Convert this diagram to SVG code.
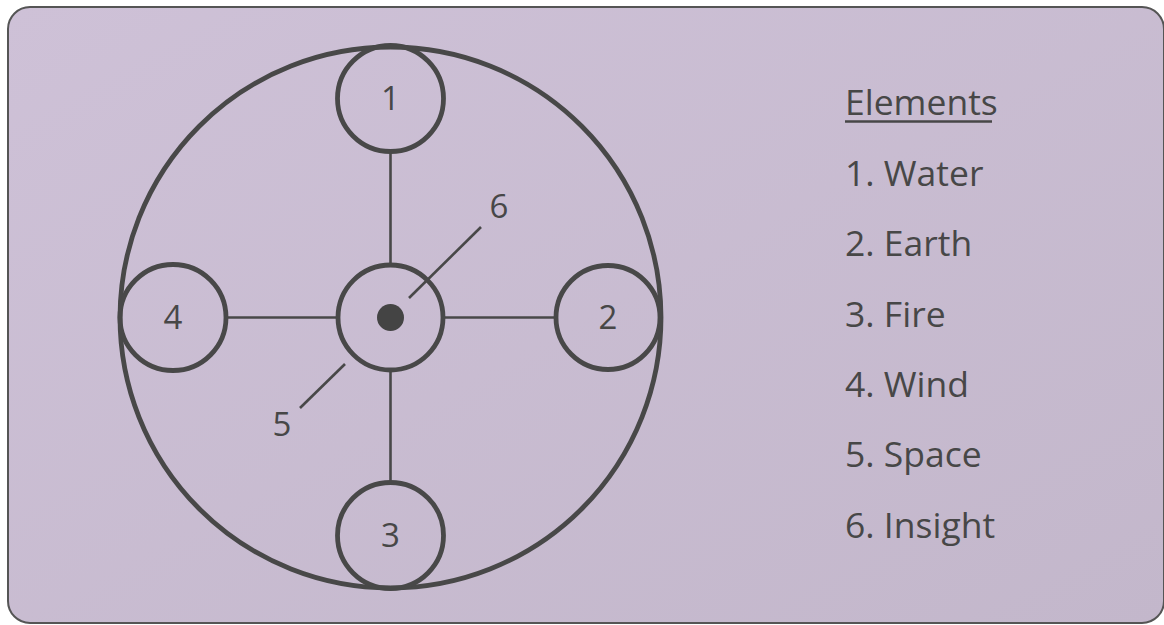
<svg xmlns="http://www.w3.org/2000/svg" width="1164" height="625" viewBox="0 0 1164 625">
<defs>
<linearGradient id="bg" x1="0" y1="0" x2="1" y2="1">
<stop offset="0" stop-color="#cec1d7"/>
<stop offset="1" stop-color="#c3b7cb"/>
</linearGradient>
</defs>
<style>
.ring{fill:none;stroke:#484848;stroke-width:4.8}
.link{fill:none;stroke:#484848;stroke-width:2.6}
.num{font-family:"Open Sans","Liberation Sans",sans-serif;font-size:33px;fill:#474747;text-anchor:middle}
.leg{font-family:"Open Sans","Liberation Sans",sans-serif;font-size:35.5px;fill:#474747}
</style>
<rect x="8" y="7" width="1156" height="616" rx="22" fill="url(#bg)" stroke="#555" stroke-width="2"/>
<g id="connectors">
<line class="link" x1="390.5" y1="151" x2="390.5" y2="265"/>
<line class="link" x1="390.5" y1="370" x2="390.5" y2="483"/>
<line class="link" x1="226" y1="317.5" x2="338" y2="317.5"/>
<line class="link" x1="443" y1="317.5" x2="556" y2="317.5"/>
<line class="link" x1="409" y1="298" x2="481" y2="227"/>
<line class="link" x1="345" y1="364" x2="300" y2="408"/>
</g>
<g id="outer"><circle class="ring" cx="390.5" cy="317.5" r="270.5"/></g>
<g id="n1"><circle class="ring" cx="390.5" cy="98.5" r="53"/><text class="num" x="390.5" y="110">1</text></g>
<g id="n2"><circle class="ring" cx="608" cy="317.5" r="52"/><text class="num" x="608" y="329">2</text></g>
<g id="n3"><circle class="ring" cx="390.5" cy="535.5" r="53"/><text class="num" x="390.5" y="547">3</text></g>
<g id="n4"><circle class="ring" cx="173" cy="317.5" r="53"/><text class="num" x="173" y="329">4</text></g>
<g id="center"><circle class="ring" cx="390.5" cy="317.5" r="52.5"/><circle cx="390.5" cy="317.5" r="13.5" fill="#444"/></g>
<g id="n5"><text class="num" x="282" y="436">5</text></g>
<g id="n6"><text class="num" x="499" y="218">6</text></g>
<g id="legend">
<text class="leg" x="845" y="115">Elements</text>
<line x1="845" y1="121.5" x2="992" y2="121.5" stroke="#474747" stroke-width="2.5"/>
<text class="leg" x="845" y="186">1. Water</text>
<text class="leg" x="845" y="256">2. Earth</text>
<text class="leg" x="845" y="327">3. Fire</text>
<text class="leg" x="845" y="397">4. Wind</text>
<text class="leg" x="845" y="467">5. Space</text>
<text class="leg" x="845" y="538">6. Insight</text>
</g>
</svg>
